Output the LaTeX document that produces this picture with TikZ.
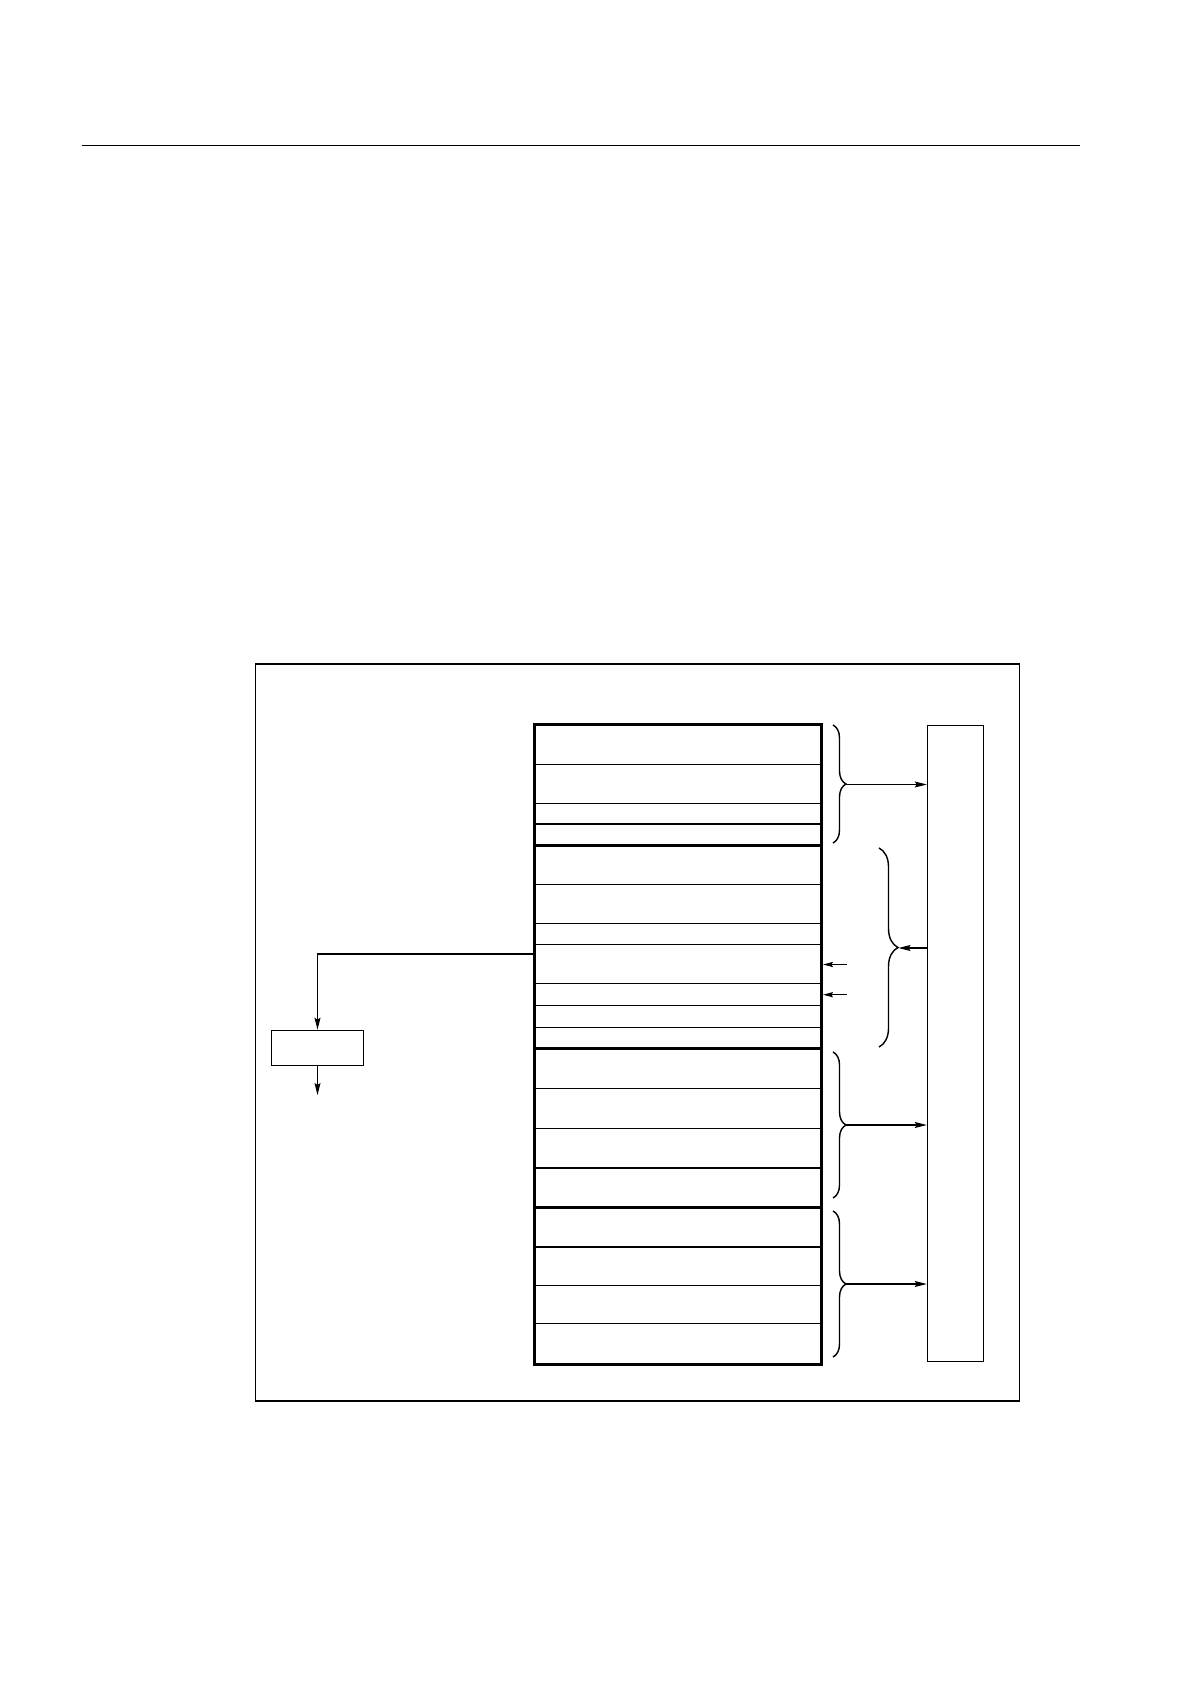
\documentclass[tikz,border=0pt]{standalone}
\usetikzlibrary{arrows.meta,decorations.pathreplacing}
\begin{document}
\begin{tikzpicture}[x = 0.5pt, y = -0.5pt, >={Stealth[length = 6pt, width = 3pt, inset = 1pt]}]

\useasboundingbox (0, 0) rectangle (1190, 1684);

\def\block{node [draw, rectangle, inner sep = 0] }
\tikzset{brace/.style = {decorate, decoration = {brace, amplitude = #1, aspect = .5}, line width = .7pt}}

\draw[line width = .55pt] (82, 145.3) -- (1080, 145.3);
\draw[line width = .7pt] (255.3, 664) rectangle (1019.3, 1401);

\draw[line width = 1.5pt] (678, 1044.3) \block [minimum width = 143.5pt, minimum height = 320pt] (mem) {};
\draw[line width = .55pt] (955.3, 1043.3) \block [minimum width = 28pt, minimum height = 318pt] (bus) {};
\draw[line width = .65pt] (317.5, 1047.8) \block [minimum width = 46pt, minimum height = 17.5pt] (out) {};

\foreach \y in {764.3, 803.3, 884.3, 923.3, 944.3, 983.3, 1005, 1027.3, 1088.3, 1128.3, 1285, 1323.3}
  \draw[line width = .5pt] (mem.west |- 0, \y) -- (mem.east |- 0, \y);
\foreach \y in {823.7, 1167.7, 1246.7}
  \draw[line width = .9pt] (mem.west |- 0, \y) -- (mem.east |- 0, \y);
\foreach \y in {845.3, 1048.7, 1207.7}
  \draw[line width = 1.5pt] (mem.west |- 0, \y) -- (mem.east |- 0, \y);

\draw[brace = 6.5pt] (833, 725) -- (833, 843);
\draw[brace = 9.5pt] (879, 848) -- (879, 1047);
\draw[brace = 6.5pt] (833, 1052) -- (833, 1198);
\draw[brace = 6.5pt] (833, 1211) -- (833, 1357);

\coordinate (tipA) at (846, 784.5);
\coordinate (tipB) at (898.5, 948);
\coordinate (tipC) at (846, 1125);
\coordinate (tipD) at (846, 1284);
\coordinate (inA) at (846.5, 964.5);
\coordinate (inB) at (846.5, 994.7);
\coordinate (outEnd) at (317.5, 1095);

\draw[->, line width = .55pt] (tipA) -- (tipA -| bus.west);
\draw[->, line width = .55pt] (tipB -| bus.west) -- (tipB);
\draw[->, line width = .55pt] (tipC) -- (tipC -| bus.west);
\draw[->, line width = .55pt] (tipD) -- (tipD -| bus.west);

\draw[-{Stealth[length = 5pt, width = 2.6pt, inset = .8pt]}, line width = .5pt] (inA) -- (inA -| mem.east);
\draw[-{Stealth[length = 5pt, width = 2.6pt, inset = .8pt]}, line width = .5pt] (inB) -- (inB -| mem.east);

\draw[->, line width = .6pt] (mem.west |- 0, 954) -| (out.north);
\draw[->, line width = .6pt] (out.south) -- (outEnd);

\end{tikzpicture}
\end{document}
